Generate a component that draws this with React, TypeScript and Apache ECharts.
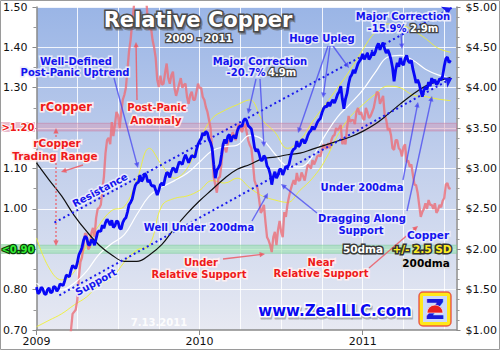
import React, { useEffect, useRef } from "react";
import * as echarts from "echarts";

// ---------- data ----------
const startYear = 2009;
const stepsPerYear = 104; // half-week sampling
const axisEnd = 2011.575;
const yearLabels = [2009, 2010, 2011];
const coveredLeftLabels = [1.2, 0.9]; // hidden behind the >1.20 / <0.90 tags

// copper price ($/lb), every half week from Jan 2009
const copper = [
  1.53, 1.45, 1.47, 1.53, 1.51, 1.45, 1.44, 1.50, 1.52, 1.46,
  1.47, 1.54, 1.53, 1.48, 1.51, 1.57, 1.56, 1.55, 1.61, 1.68,
  1.67, 1.66, 1.74, 1.80, 1.78, 1.76, 1.83, 1.93, 1.97, 2.02,
  2.11, 2.16, 2.14, 2.06, 2.05, 2.12, 2.10, 2.05, 2.13, 2.21,
  2.23, 2.22, 2.30, 2.26, 2.33, 2.37, 2.34, 2.30, 2.36, 2.27,
  2.29, 2.35, 2.34, 2.26, 2.25, 2.33, 2.37, 2.39, 2.46, 2.55,
  2.58, 2.62, 2.71, 2.79, 2.82, 2.83, 2.92, 2.84, 2.87, 2.94,
  2.91, 2.83, 2.86, 2.80, 2.78, 2.79, 2.73, 2.67, 2.73, 2.80,
  2.82, 2.79, 2.88, 2.95, 2.94, 2.89, 2.96, 3.01, 2.99, 2.95,
  3.02, 3.08, 3.07, 3.05, 3.12, 3.17, 3.12, 3.07, 3.12, 3.16,
  3.15, 3.14, 3.23, 3.30, 3.34, 3.37, 3.44, 3.41, 3.46, 3.44,
  3.36, 3.32, 3.25, 3.05, 2.88, 2.98, 3.01, 3.05, 3.17, 3.30,
  3.36, 3.31, 3.40, 3.42, 3.33, 3.39, 3.41, 3.37, 3.46, 3.51,
  3.53, 3.52, 3.59, 3.62, 3.59, 3.53, 3.51, 3.49, 3.39, 3.26,
  3.21, 3.24, 3.18, 3.10, 3.10, 3.16, 3.13, 3.03, 3.00, 2.93,
  2.80, 2.90, 2.96, 2.88, 2.92, 2.99, 2.99, 2.92, 2.97, 3.03,
  3.01, 3.05, 3.14, 3.21, 3.24, 3.25, 3.34, 3.27, 3.29, 3.35,
  3.36, 3.31, 3.35, 3.41, 3.45, 3.47, 3.52, 3.48, 3.52, 3.57,
  3.60, 3.62, 3.69, 3.74, 3.77, 3.76, 3.82, 3.77, 3.82, 3.85,
  3.81, 3.86, 3.92, 3.95, 4.02, 3.86, 3.74, 3.86, 3.93, 4.05,
  4.13, 4.16, 4.22, 4.18, 4.24, 4.30, 4.33, 4.36, 4.42, 4.35,
  4.39, 4.43, 4.35, 4.38, 4.44, 4.40, 4.44, 4.51, 4.55, 4.47,
  4.52, 4.56, 4.48, 4.43, 4.47, 4.42, 4.35, 4.25, 4.08, 4.22,
  4.31, 4.26, 4.37, 4.30, 4.28, 4.36, 4.40, 4.33, 4.31, 4.34,
  4.23, 4.15, 4.06, 4.10, 4.05, 3.96, 3.89, 3.97, 4.01, 3.98,
  4.07, 4.02, 4.12, 4.06, 4.10, 4.04, 4.06, 4.11, 4.10, 4.15,
  4.27, 4.36, 4.38, 4.31, 4.34,
];

// relative copper (price / 200dma), every half week
const rCopper = [
  0.50, 0.47, 0.49, 0.52, 0.51, 0.47, 0.49, 0.52, 0.53, 0.50,
  0.52, 0.56, 0.55, 0.54, 0.56, 0.59, 0.59, 0.60, 0.62, 0.66,
  0.66, 0.67, 0.70, 0.74, 0.745, 0.75, 0.774, 0.83, 0.868, 0.88,
  0.910, 0.94, 0.935, 0.90, 0.906, 0.94, 0.953, 0.93, 0.977, 1.00,
  1.002, 1.01, 1.047, 1.08, 1.138, 1.17, 1.176, 1.16, 1.215, 1.18,
  1.208, 1.24, 1.232, 1.20, 1.237, 1.27, 1.282, 1.30, 1.344, 1.39,
  1.418, 1.46, 1.497, 1.54, 1.55, 1.53, 1.58, 1.51, 1.56, 1.57,
  1.52, 1.46, 1.443, 1.45, 1.418, 1.40, 1.374, 1.32, 1.302, 1.33,
  1.307, 1.31, 1.337, 1.36, 1.324, 1.31, 1.331, 1.34, 1.299, 1.28,
  1.294, 1.31, 1.324, 1.30, 1.307, 1.31, 1.277, 1.26, 1.282, 1.29,
  1.270, 1.27, 1.290, 1.31, 1.299, 1.30, 1.277, 1.27, 1.252, 1.24,
  1.220, 1.20, 1.146, 1.08, 1.059, 1.04, 1.076, 1.08, 1.114, 1.16,
  1.151, 1.14, 1.163, 1.17, 1.170, 1.19, 1.183, 1.17, 1.195, 1.21,
  1.200, 1.19, 1.205, 1.21, 1.190, 1.17, 1.158, 1.15, 1.114, 1.07,
  1.059, 1.05, 1.022, 0.99, 0.997, 1.01, 0.967, 0.93, 0.922, 0.91,
  0.893, 0.93, 0.943, 0.91, 0.948, 0.97, 0.943, 0.93, 0.992, 0.98,
  1.010, 1.03, 1.047, 1.06, 1.071, 1.06, 1.089, 1.07, 1.071, 1.09,
  1.081, 1.07, 1.091, 1.11, 1.106, 1.10, 1.121, 1.11, 1.119, 1.13,
  1.133, 1.13, 1.146, 1.16, 1.151, 1.15, 1.163, 1.15, 1.170, 1.18,
  1.183, 1.20, 1.195, 1.20, 1.208, 1.16, 1.170, 1.16, 1.200, 1.23,
  1.215, 1.22, 1.220, 1.21, 1.240, 1.25, 1.233, 1.24, 1.225, 1.22,
  1.250, 1.24, 1.225, 1.23, 1.240, 1.25, 1.270, 1.29, 1.287, 1.26,
  1.270, 1.28, 1.233, 1.22, 1.195, 1.20, 1.183, 1.15, 1.146, 1.17,
  1.170, 1.15, 1.146, 1.13, 1.153, 1.16, 1.116, 1.12, 1.104, 1.11,
  1.084, 1.06, 1.059, 1.04, 1.010, 0.98, 0.992, 1.00, 1.014, 1.00,
  1.022, 1.01, 1.010, 1.00, 1.014, 0.99, 0.997, 1.01, 1.004, 1.02,
  1.027, 1.06, 1.064, 1.05, 1.052,
];

// moving averages and bands, sampled every 8 half-weeks (4 weeks)
const maSteps = [
  0, 8, 16, 24, 32, 40, 48, 56, 64, 72, 80, 88, 96, 104, 112, 120, 128,
  136, 144, 152, 160, 168, 176, 184, 192, 200, 208, 216, 224, 232, 240, 248, 256, 264,
];
const dma200 = [
  3.07, 2.86, 2.66, 2.42, 2.22, 2.05, 1.93, 1.85, 1.85, 1.93, 2.06, 2.26,
  2.44, 2.6, 2.74, 2.88, 2.99, 3.05, 3.12, 3.14, 3.17, 3.19, 3.24, 3.29,
  3.34, 3.39, 3.46, 3.55, 3.67, 3.8, 3.92, 4.02, 4.08, 4.13,
];
const dma50 = [
  1.58, 1.5, 1.5, 1.58, 1.73, 1.94, 2.07, 2.18, 2.43, 2.66, 2.77, 2.85,
  2.94, 3.08, 3.22, 3.27, 3.29, 3.41, 3.36, 3.18, 3.03, 3.02, 3.15, 3.41,
  3.64, 3.8, 3.97, 4.19, 4.38, 4.4, 4.34, 4.23, 4.16, 4.12,
];
const bandUpper = [
  2.14, 1.77, 1.62, 1.72, 2.05, 2.3, 2.48, 2.53, 2.86, 3.25, 3.04, 2.88,
  3.0, 3.35, 3.62, 3.72, 3.79, 3.85, 3.6, 3.45, 3.25, 3.35, 3.58, 3.79,
  4.0, 4.22, 4.47, 4.69, 4.79, 4.78, 4.71, 4.61, 4.49, 4.44,
];
const bandLower = [
  1.04, 1.12, 1.2, 1.31, 1.41, 1.56, 1.64, 1.84, 1.99, 2.05, 2.54, 2.63,
  2.66, 2.73, 2.85, 2.82, 2.88, 2.76, 2.66, 2.61, 2.58, 2.73, 2.88, 3.1,
  3.41, 3.64, 3.79, 3.92, 4.02, 4.0, 3.91, 3.89, 3.86, 3.84,
];

// trend lines [year, $]
const resistanceLine = [[2009.11, 2.33], [2011.545, 4.99]];
const supportLine = [[2009.14, 1.43], [2011.549, 4.12]];
// relative bands (rCopper)
const highBand = [1.193, 1.212];
const lowBand = [0.89, 0.91];

// ---------- helpers ----------
const FONT = '"DejaVu Sans", Verdana, sans-serif';
const stepX = (k: number) => startYear + k / stepsPerYear;

function label(
  x: number, y: number, text: string, fill: string, stroke: string,
  size = 10, rotation = 0, lw = 3
): any {
  return {
    type: "text", x, y, rotation, silent: true, z: 100,
    style: {
      text, fill, stroke, lineWidth: lw, strokeFirst: true,
      font: `bold ${size}px ${FONT}`, align: "center", verticalAlign: "middle",
    },
  };
}

function arrow(x1: number, y1: number, x2: number, y2: number, color: string, dash?: number[]): any[] {
  const a = Math.atan2(y2 - y1, x2 - x1);
  const h = 6, w = 0.45;
  const p1 = [x2 - h * Math.cos(a - w), y2 - h * Math.sin(a - w)];
  const p2 = [x2 - h * Math.cos(a + w), y2 - h * Math.sin(a + w)];
  return [
    {
      type: "line", z: 90, silent: true,
      shape: { x1, y1, x2: x2 - 3 * Math.cos(a), y2: y2 - 3 * Math.sin(a) },
      style: { stroke: color, lineWidth: 1.4, lineDash: dash },
    },
    { type: "polygon", z: 90, silent: true, shape: { points: [[x2, y2], p1, p2] }, style: { fill: color } },
  ];
}

const BLUE = "#1414ee";
const BLUE_HALO = "rgba(236,238,252,0.95)";
const RED = "#ee1a1a";
const RED_HALO = "rgba(255,240,240,0.95)";
const BLUE_ARROW = "rgba(70,70,240,0.75)";
const RED_ARROW = "rgba(236,90,100,0.85)";

function buildGraphics(): any[] {
  const g: any[] = [];
  // outer frame
  g.push({ type: "rect", z: 100, silent: true, shape: { x: 0.5, y: 0.5, width: 499, height: 349 }, style: { fill: "none", stroke: "#9a9a9a", lineWidth: 1 } });

  // title
  g.push({
    type: "text", x: 199.5, y: 21.5, silent: true, z: 99,
    style: { text: "Relative Copper", fill: "#555", stroke: "#555", lineWidth: 3, font: `bold 21px ${FONT}`, align: "center", verticalAlign: "middle", opacity: 0.6 },
  });
  g.push(label(198, 20, "Relative Copper", "#ffffff", "#4a4a4a", 21, 0, 3));
  g.push(label(199, 38, "2009 - 2011", "#ffffff", "#454545", 10, 0, 2.6));

  // left band labels
  g.push({ type: "rect", z: 95, silent: true, shape: { x: 1, y: 122, width: 34, height: 10 }, style: { fill: "#e8bccd" } });
  g.push(label(18, 127, ">1.20", RED, "#ffffff", 10, 0, 2));
  g.push({ type: "rect", z: 95, silent: true, shape: { x: 1, y: 244, width: 34, height: 10 }, style: { fill: "#b2e2bf" } });
  g.push(label(18, 249, "<0.90", "#33ee33", "#0b3d0b", 10, 0, 2.4));

  // blue annotations
  g.push(label(76, 61, "Well-Defined", BLUE, BLUE_HALO));
  g.push(label(75, 72, "Post-Panic Uptrend", BLUE, BLUE_HALO));
  g.push(...arrow(114, 78, 138, 168, BLUE_ARROW));

  g.push(label(260, 61, "Major Correction", BLUE, BLUE_HALO));
  g.push(label(246, 72, "-20.7%", BLUE, BLUE_HALO));
  g.push(label(282, 72, "4.9m", "#ffffff", "#444", 10, 0, 2.6));
  g.push(...arrow(256, 79, 248, 114, BLUE_ARROW));
  g.push(...arrow(260, 79, 264, 147, BLUE_ARROW));

  g.push(label(322, 38, "Huge Upleg", BLUE, BLUE_HALO));
  g.push(...arrow(328, 46, 298, 133, BLUE_ARROW));
  g.push(...arrow(330, 46, 323, 98, BLUE_ARROW));
  g.push(...arrow(333, 46, 349, 68, BLUE_ARROW));

  g.push(label(403, 16, "Major Correction", BLUE, BLUE_HALO));
  g.push(label(387, 28, "-15.9%", BLUE, BLUE_HALO));
  g.push(label(424, 28, "2.9m", "#ffffff", "#444", 10, 0, 2.6));
  g.push(...arrow(401, 34, 402, 49, BLUE_ARROW));

  g.push(label(199, 227, "Well Under 200dma", BLUE, BLUE_HALO));
  g.push(...arrow(252, 221, 268, 193, BLUE_ARROW));

  g.push(label(362, 187, "Under 200dma", BLUE, BLUE_HALO));
  g.push(...arrow(403, 180, 418, 102, BLUE_ARROW));

  g.push(label(362, 218, "Dragging Along", BLUE, BLUE_HALO));
  g.push(label(361, 230, "Support", BLUE, BLUE_HALO));
  g.push(...arrow(317, 213, 281, 184, BLUE_ARROW));
  g.push(...arrow(407, 211, 432, 96, BLUE_ARROW));

  g.push(label(100, 190, "Resistance", BLUE, BLUE_HALO, 10, 0.49));
  g.push(label(96, 282, "Support", BLUE, BLUE_HALO, 10, 0.5));

  // red annotations
  g.push(label(66, 107, "rCopper", RED, RED_HALO, 11.5));
  g.push(label(157, 107, "Post-Panic", RED, RED_HALO));
  g.push(label(156, 120, "Anomaly", RED, RED_HALO, 10.5));
  g.push(...arrow(137, 100, 136, 42, RED_ARROW));

  g.push(label(57, 143, "rCopper", RED, RED_HALO, 10.5));
  g.push(label(55, 156, "Trading Range", RED, RED_HALO, 10.5));
  g.push(...arrow(83, 165, 61, 172, RED_ARROW));
  g.push(...arrow(56, 137, 56, 128, RED_ARROW, [2, 2]));
  g.push(...arrow(56, 163, 56, 246, RED_ARROW, [2, 2]));

  g.push(label(201, 262, "Under", RED, RED_HALO));
  g.push(label(199, 274, "Relative Support", RED, RED_HALO));
  g.push(...arrow(223, 259, 265, 254, RED_ARROW));

  g.push(label(321, 262, "Near", RED, RED_HALO));
  g.push(label(321, 273, "Relative Support", RED, RED_HALO));
  g.push(...arrow(369, 268, 418, 226, RED_ARROW));

  // legend
  g.push(label(428, 235, "Copper", BLUE, BLUE_HALO, 10.5));
  g.push(label(363, 249, "50dma", "#ffffff", "#3a3a3a", 10.5, 0, 3));
  g.push(label(422, 249, "+/- 2.5 SD", "#ffee22", "#333333", 10.5, 0, 3));
  g.push(label(426, 263, "200dma", "#000000", "#dcdcdc", 10.5, 0, 3));

  // date stamp & site
  g.push({
    type: "text", x: 159, y: 322, silent: true, z: 100,
    style: { text: "7.13.2011", fill: "rgba(255,255,255,0.92)", font: `bold 10px ${FONT}`, align: "center", verticalAlign: "middle" },
  });
  g.push({
    type: "text", x: 336, y: 312.5, silent: true, z: 99,
    style: { text: "www.ZealLLC.com", fill: "#888", stroke: "#888", lineWidth: 3, font: `bold 15px ${FONT}`, align: "center", verticalAlign: "middle", opacity: 0.6 },
  });
  g.push(label(335, 311, "www.ZealLLC.com", "#0a0af2", "#ffffff", 15, 0, 3));

  // logo
  g.push({ type: "rect", z: 100, silent: true, shape: { x: 419, y: 292, width: 32, height: 34, r: 4 }, style: { fill: "#ffe81a", stroke: "rgba(230,60,60,0.8)", lineWidth: 1.5 } });
  g.push({ type: "rect", z: 101, silent: true, shape: { x: 423, y: 296, width: 24, height: 26 }, style: { fill: "#c9d8fb" } });
  g.push({
    type: "text", x: 435, y: 310, silent: true, z: 102,
    style: { text: "Z", fill: "#1a1ad8", font: `bold 26px ${FONT}`, align: "center", verticalAlign: "middle" },
  });
  g.push({ type: "sector", z: 103, silent: true, shape: { cx: 435, cy: 313, r0: 0, r: 8, startAngle: Math.PI, endAngle: 2 * Math.PI }, style: { fill: "#e82020", stroke: "#fff", lineWidth: 0.6 } });
  return g;
}

export default function App() {
  const ref = useRef<HTMLDivElement>(null);
  useEffect(() => {
    if (!ref.current) return;
    const chart = echarts.init(ref.current, null, { renderer: "svg" });
    const axisText = { color: "#111", fontSize: 11, fontFamily: FONT };
    const maSeries = (name: string, vals: number[], color: string, width: number, z: number) => ({
      name, type: "line", yAxisIndex: 1, z, smooth: 0.4, showSymbol: false, silent: true,
      emphasis: { disabled: true },
      lineStyle: { color, width },
      data: vals.map((v, k) => [stepX(maSteps[k]), v]),
    });
    chart.setOption({
      animation: false,
      backgroundColor: "#ffffff",
      grid: {
        left: 35, right: 43, top: 7, bottom: 20, show: true, borderWidth: 0,
        backgroundColor: new echarts.graphic.LinearGradient(0, 0, 0, 1, [
          { offset: 0, color: "#9ab5e6" },
          { offset: 0.5, color: "#c3d0ec" },
          { offset: 1, color: "#e7e9f2" },
        ]),
      },
      xAxis: [
        {
          type: "value", min: startYear, max: axisEnd, interval: 0.25,
          axisLine: { show: true, lineStyle: { color: "#8a8a8a", width: 1.5 } },
          axisTick: { show: false }, axisLabel: { show: false },
          splitLine: { show: true, lineStyle: { color: "rgba(255,255,255,0.85)", width: 1 } },
        },
        {
          type: "value", position: "bottom", min: startYear, max: axisEnd, interval: 1,
          axisLine: { show: false },
          axisTick: { show: true, length: 5, lineStyle: { color: "#8a8a8a" } },
          axisLabel: {
            ...axisText, margin: 6, showMaxLabel: false,
            formatter: (v: number) => (yearLabels.indexOf(Math.round(v * 1000) / 1000) >= 0 ? String(v) : ""),
          },
          splitLine: { show: false },
        },
      ],
      yAxis: [
        {
          type: "value", position: "left", min: 0.7, max: 1.5, interval: 0.1,
          axisLine: { show: true, lineStyle: { color: "#8a8a8a", width: 1.5 } },
          axisTick: { show: true, length: 4, lineStyle: { color: "#8a8a8a" } },
          minorTick: { show: true, splitNumber: 2, length: 3, lineStyle: { color: "#999" } },
          axisLabel: {
            ...axisText, margin: 9,
            formatter: (v: number) => (coveredLeftLabels.some((c) => Math.abs(c - v) < 1e-6) ? "" : v.toFixed(2)),
          },
          splitLine: { show: true, lineStyle: { color: "rgba(255,255,255,0.85)", width: 1 } },
        },
        {
          type: "value", position: "right", min: 1, max: 5, interval: 0.5,
          axisLine: { show: true, lineStyle: { color: "#8a8a8a", width: 1.5 } },
          axisTick: { show: true, length: 4, lineStyle: { color: "#8a8a8a" } },
          minorTick: { show: true, splitNumber: 4, length: 3, lineStyle: { color: "#999" } },
          axisLabel: { ...axisText, margin: 9, formatter: (v: number) => "$" + v.toFixed(2) },
          splitLine: { show: false },
        },
      ],
      series: [
        maSeries("Upper band", bandUpper, "#f0f033", 0.9, 2),
        maSeries("Lower band", bandLower, "#f0f033", 0.9, 2),
        {
          name: "rCopper", type: "line", yAxisIndex: 0, z: 3, showSymbol: false, silent: true,
          emphasis: { disabled: true },
          lineStyle: { color: "rgba(236,112,122,0.82)", width: 2.3 },
          data: rCopper.map((v, k) => [stepX(k), v]),
          markArea: {
            silent: true,
            data: [
              [{ yAxis: highBand[0], itemStyle: { color: "rgba(215,150,180,0.45)", borderColor: "rgba(200,120,160,0.5)", borderWidth: 1 } }, { yAxis: highBand[1] }],
              [{ yAxis: lowBand[0], itemStyle: { color: "rgba(150,225,170,0.55)", borderColor: "rgba(120,205,150,0.5)", borderWidth: 1 } }, { yAxis: lowBand[1] }],
            ],
          },
        },
        maSeries("50dma", dma50, "#ffffff", 1.2, 4),
        maSeries("200dma", dma200, "#111111", 1.2, 4),
        {
          name: "Copper", type: "line", yAxisIndex: 1, z: 6, showSymbol: false, silent: true,
          emphasis: { disabled: true },
          lineStyle: { color: "#0808f6", width: 2.8 },
          data: copper.map((v, k) => [stepX(k), v]),
          markLine: {
            silent: true, symbol: ["none", "arrow"], symbolSize: 9,
            label: { show: false },
            lineStyle: { type: [2, 3], width: 2, color: "#1a1aee" },
            emphasis: { disabled: true },
            data: [
              [{ coord: resistanceLine[0] }, { coord: resistanceLine[1] }],
              [{ coord: supportLine[0] }, { coord: supportLine[1] }],
            ],
          },
        },
      ],
      graphic: { elements: buildGraphics() },
    });
    return () => chart.dispose();
  }, []);
  return (
    <div
      ref={ref}
      style={{ position: "fixed", left: 0, top: 0, width: 500, height: 350, background: "#fff" }}
    />
  );
}
